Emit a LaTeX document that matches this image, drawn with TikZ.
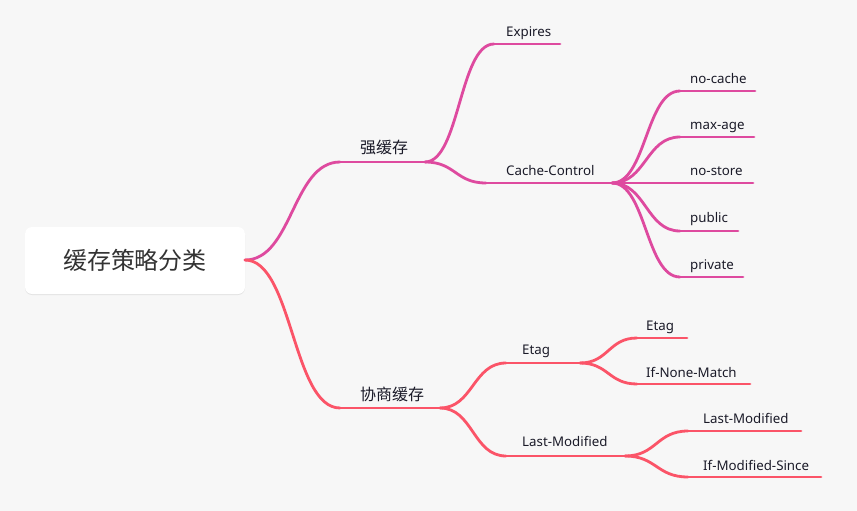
\documentclass[tikz,border=0pt]{standalone}
\usepackage{fontspec}
\setmainfont{Noto Sans}
\newfontfamily\cjk{Noto Sans CJK SC}
\usetikzlibrary{calc,shadows}
\definecolor{bg}{HTML}{F7F7F7}
\definecolor{pinkc}{HTML}{DE4A9F}
\definecolor{redc}{HTML}{FB5468}
\definecolor{txt}{HTML}{1A1A28}
\definecolor{roottxt}{HTML}{333333}
\newcommand\mmcurve[3]{\draw[edge,#3] let \p1=(#1), \p2=(#2) in (#1) .. controls ({0.5*\x1+0.5*\x2},\y1) and ({0.5*\x1+0.5*\x2},\y2) .. (#2);}
\begin{document}
\begin{tikzpicture}[x=1pt,y=-1pt,
  lbl/.style={anchor=base west, inner sep=0pt, font=\fontsize{13.3}{15}\selectfont, text=txt},
  clbl/.style={anchor=base west, inner sep=0pt, font=\cjk\fontsize{16}{18}\selectfont, text=txt},
  edge/.style={line width=2.8pt, line cap=round},
  rootbox/.style={fill=white, rounded corners=7pt, minimum width=220pt, minimum height=67pt, inner sep=0pt,
    drop shadow={shadow xshift=0pt, shadow yshift=-1pt, opacity=0.08, fill=black}},
]
\fill[bg] (0,0) rectangle (857,511);
\useasboundingbox (0,0) rectangle (857,511);

% root
\node[rootbox, font=\cjk\fontsize{24}{27}\selectfont, text=roottxt] (root) at (135,260.5) {缓存策略分类};
\coordinate (R) at (245,260);

% coordinates of underlines
\coordinate (qs) at (340,162); \coordinate (qe) at (425,162);
\coordinate (exs) at (494,44); \coordinate (exe) at (560,44);
\coordinate (ccs) at (486,183); \coordinate (cce) at (612,183);
\coordinate (ncs) at (680,91); \coordinate (nce) at (755,91);
\coordinate (mas) at (680,137); \coordinate (mae) at (754,137);
\coordinate (nss) at (680,183); \coordinate (nse) at (753,183);
\coordinate (pus) at (680,231); \coordinate (pue) at (738,231);
\coordinate (prs) at (680,277); \coordinate (pre) at (743,277);

\coordinate (xs) at (340,408); \coordinate (xe) at (440,408);
\coordinate (ets) at (506,363); \coordinate (ete) at (580,363);
\coordinate (lms) at (506,456); \coordinate (lme) at (625,456);
\coordinate (e1s) at (637,338); \coordinate (e1e) at (687,338);
\coordinate (e2s) at (637,384); \coordinate (e2e) at (750,384);
\coordinate (l1s) at (688,431); \coordinate (l1e) at (801,431);
\coordinate (l2s) at (688,477); \coordinate (l2e) at (821,477);

% top branch (pink)
\mmcurve{R}{qs}{pinkc}
\draw[edge,pinkc] (qs) -- (qe);
\mmcurve{qe}{exs}{pinkc}
\draw[edge,pinkc] (exs) -- (exe);
\mmcurve{qe}{ccs}{pinkc}
\draw[edge,pinkc] (ccs) -- (cce);
\mmcurve{cce}{ncs}{pinkc} \draw[edge,pinkc] (ncs) -- (nce);
\mmcurve{cce}{mas}{pinkc} \draw[edge,pinkc] (mas) -- (mae);
\draw[edge,pinkc] (cce) -- (nss) -- (nse);
\mmcurve{cce}{pus}{pinkc} \draw[edge,pinkc] (pus) -- (pue);
\mmcurve{cce}{prs}{pinkc} \draw[edge,pinkc] (prs) -- (pre);

% bottom branch (red)
\mmcurve{R}{xs}{redc}
\draw[edge,redc] (xs) -- (xe);
\mmcurve{xe}{ets}{redc} \draw[edge,redc] (ets) -- (ete);
\mmcurve{xe}{lms}{redc} \draw[edge,redc] (lms) -- (lme);
\mmcurve{ete}{e1s}{redc} \draw[edge,redc] (e1s) -- (e1e);
\mmcurve{ete}{e2s}{redc} \draw[edge,redc] (e2s) -- (e2e);
\mmcurve{lme}{l1s}{redc} \draw[edge,redc] (l1s) -- (l1e);
\mmcurve{lme}{l2s}{redc} \draw[edge,redc] (l2s) -- (l2e);

% labels
\node[clbl] (tq) at (360,153.5) {强缓存};
\node[lbl] (tex) at (506,36.5) {Expires};
\node[lbl] (tcc) at (506,175.5) {Cache-Control};
\node[lbl] (tnc) at (690,83.5) {no-cache};
\node[lbl] (tma) at (690,129.5) {max-age};
\node[lbl] (tns) at (690,175.5) {no-store};
\node[lbl] (tpu) at (690,222.5) {public};
\node[lbl] (tpr) at (690,269.5) {private};

\node[clbl] (tx) at (360,400) {协商缓存};
\node[lbl] (tet) at (522,354.5) {Etag};
\node[lbl] (tlm) at (522,446.5) {Last-Modified};
\node[lbl] (te1) at (646,330.5) {Etag};
\node[lbl] (te2) at (646,377) {If-None-Match};
\node[lbl] (tl1) at (703,423.5) {Last-Modified};
\node[lbl] (tl2) at (703,470) {If-Modified-Since};
\end{tikzpicture}
\end{document}
